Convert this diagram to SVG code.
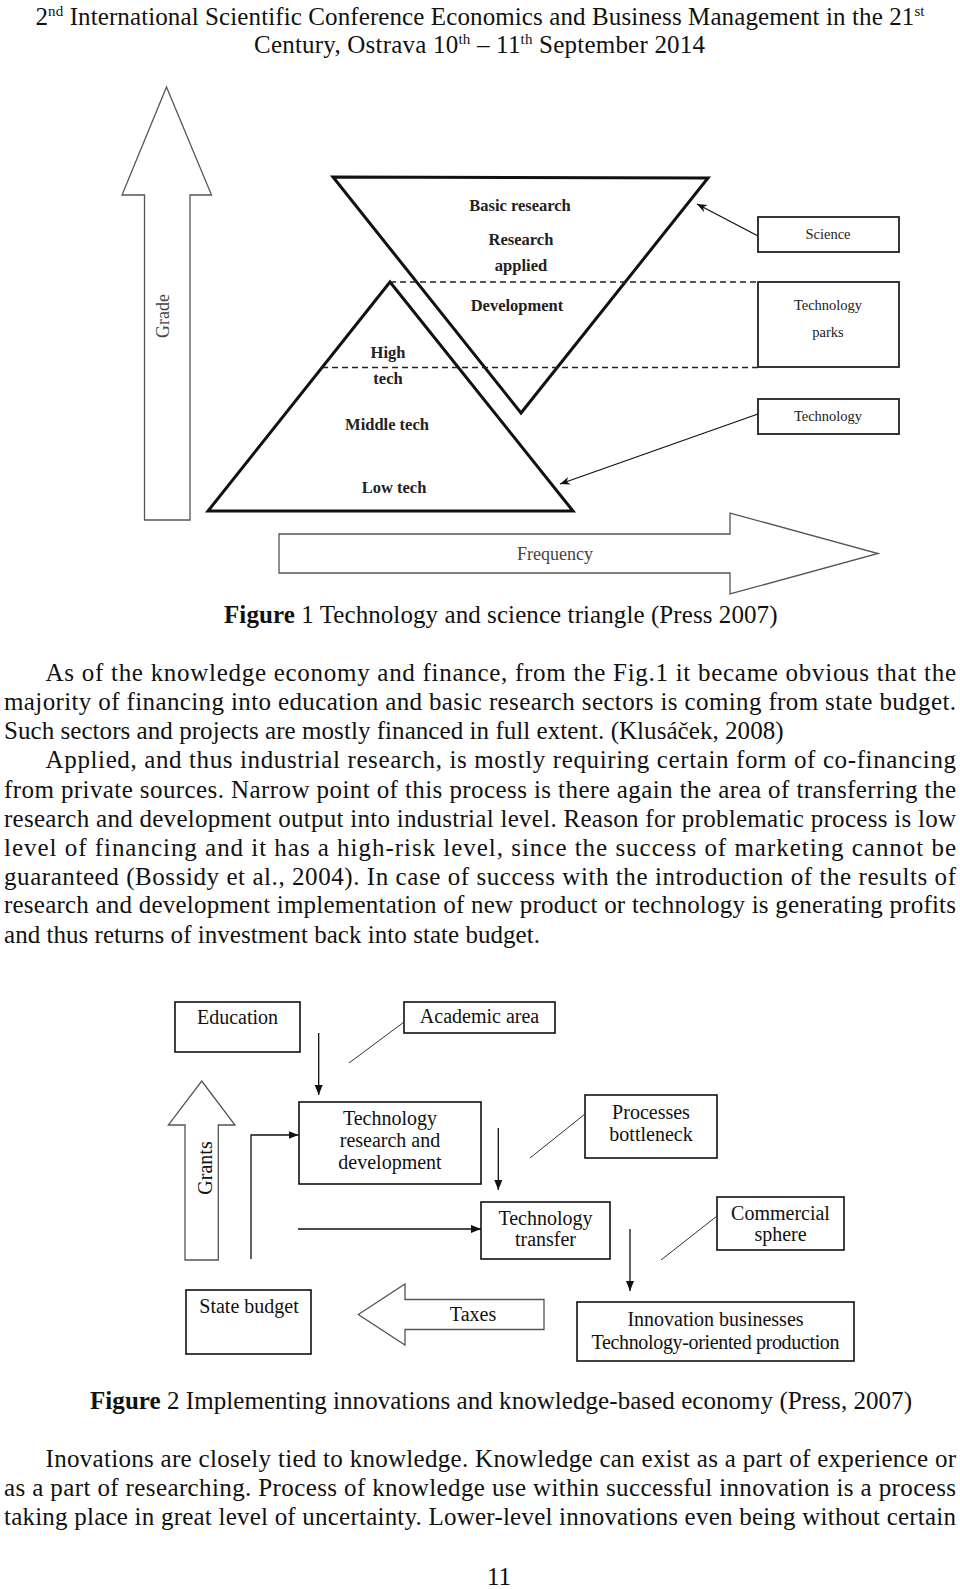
<svg xmlns="http://www.w3.org/2000/svg" width="960" height="1589" viewBox="0 0 960 1589">
<style>
text{font-family:"Liberation Serif","Times New Roman",serif;fill:#111}
.body{font-size:25px}
.hdr{font-size:25px}
.tri{fill:none;stroke:#111;stroke-width:3}
.dash{fill:none;stroke:#222;stroke-width:1.4;stroke-dasharray:6 4}
.b1{fill:none;stroke:#222;stroke-width:1.8}
.f1b{font-size:16.5px;font-weight:bold;text-anchor:middle;fill:#222}
.f1r{font-size:14.5px;text-anchor:middle;fill:#222}
.hollow{fill:none;stroke:#555;stroke-width:1.3}
.gl{font-size:18px;fill:#444;text-anchor:middle}
.b2{fill:none;stroke:#111;stroke-width:1.6}
.f2{font-size:20px;text-anchor:middle;fill:#111}
.conn{fill:none;stroke:#111;stroke-width:1.3}
.thin{fill:none;stroke:#333;stroke-width:1}
</style>
<defs>
<marker id="ah" markerUnits="userSpaceOnUse" markerWidth="11" markerHeight="9" refX="10" refY="4" orient="auto">
<path d="M0,0 L10,4 L0,8 z" fill="#111"/>
</marker>
<marker id="ah1" markerUnits="userSpaceOnUse" markerWidth="11" markerHeight="9" refX="10" refY="4" orient="auto">
<path d="M0,0 L10,4 L0,8 L3,4 z" fill="#111"/>
</marker>
</defs>
<rect width="960" height="1589" fill="#fff"/>

<g id="header">
<text class="hdr" x="35.5" y="25" textLength="889" lengthAdjust="spacing">2<tspan dy="-9" font-size="15">nd</tspan><tspan dy="9"> International Scientific Conference Economics and Business Management in the 21</tspan><tspan dy="-9" font-size="15">st</tspan></text>
<text class="hdr" x="254" y="53" textLength="451" lengthAdjust="spacing">Century, Ostrava 10<tspan dy="-9" font-size="15">th</tspan><tspan dy="9"> – 11</tspan><tspan dy="-9" font-size="15">th</tspan><tspan dy="9"> September 2014</tspan></text>
</g>

<!-- Figure 1 -->
<g id="grade-arrow">
<polygon class="hollow" points="166.5,87 211.5,195 190,195 190,520 144.5,520 144.5,195 122,195"/>
<text class="gl" transform="translate(169,316) rotate(-90)">Grade</text>
</g>
<g id="frequency-arrow">
<polygon class="hollow" points="279,534 730,534 730,513 878,553.5 730,594 730,573 279,573"/>
<text class="gl" x="555" y="560" font-size="20">Frequency</text>
</g>
<g id="inverted-triangle">
<polygon class="tri" points="333,177 708,178 521,413"/>
<text class="f1b" x="520" y="211">Basic research</text>
<text class="f1b" x="521" y="245">Research</text>
<text class="f1b" x="521" y="271">applied</text>
<text class="f1b" x="517" y="311">Development</text>
</g>
<g id="pyramid">
<polygon class="tri" points="390,282 208,511 573,511"/>
<text class="f1b" x="388" y="358">High</text>
<text class="f1b" x="388" y="384">tech</text>
<text class="f1b" x="387" y="430">Middle tech</text>
<text class="f1b" x="394" y="493">Low tech</text>
</g>
<g id="levels">
<line class="dash" x1="390" y1="282" x2="758" y2="282"/>
<line class="dash" x1="322" y1="367.5" x2="758" y2="367.5"/>
</g>
<g id="science">
<rect class="b1" x="758" y="217" width="141" height="35"/>
<text class="f1r" x="828" y="239">Science</text>
</g>
<g id="technology-parks">
<rect class="b1" x="758" y="282" width="141" height="85"/>
<text class="f1r" x="828" y="310">Technology</text>
<text class="f1r" x="828" y="337">parks</text>
</g>
<g id="technology">
<rect class="b1" x="758" y="399" width="141" height="35"/>
<text class="f1r" x="828" y="421">Technology</text>
</g>
<g id="fig1-connectors">
<line class="conn" x1="758" y1="236" x2="697" y2="204" marker-end="url(#ah1)"/>
<line class="conn" x1="758" y1="414" x2="560" y2="484" marker-end="url(#ah1)"/>
</g>

<text class="body" x="224" y="623" textLength="553.5" lengthAdjust="spacing"><tspan font-weight="bold">Figure</tspan> 1 Technology and science triangle (Press 2007)</text>

<g id="paragraph1" class="body">
<text class="body" x="45.6" y="681" textLength="910.4" lengthAdjust="spacing">As of the knowledge economy and finance, from the Fig.1 it became obvious that the</text>
<text class="body" x="4" y="710" textLength="952" lengthAdjust="spacing">majority of financing into education and basic research sectors is coming from state budget.</text>
<text class="body" x="4" y="739" textLength="779.6" lengthAdjust="spacing">Such sectors and projects are mostly financed in full extent. (Klusáček, 2008)</text>
<text class="body" x="45.6" y="768" textLength="910.4" lengthAdjust="spacing">Applied, and thus industrial research, is mostly requiring certain form of co-financing</text>
<text class="body" x="4" y="798" textLength="952" lengthAdjust="spacing">from private sources. Narrow point of this process is there again the area of transferring the</text>
<text class="body" x="4" y="827" textLength="952" lengthAdjust="spacing">research and development output into industrial level. Reason for problematic process is low</text>
<text class="body" x="4" y="856" textLength="952" lengthAdjust="spacing">level of financing and it has a high-risk level, since the success of marketing cannot be</text>
<text class="body" x="4" y="885" textLength="952" lengthAdjust="spacing">guaranteed (Bossidy et al., 2004). In case of success with the introduction of the results of</text>
<text class="body" x="4" y="913" textLength="952" lengthAdjust="spacing">research and development implementation of new product or technology is generating profits</text>
<text class="body" x="4" y="943" textLength="536" lengthAdjust="spacing">and thus returns of investment back into state budget.</text>
</g>

<!-- Figure 2 -->
<g id="education">
<rect class="b2" x="175" y="1002" width="125" height="50"/>
<text class="f2" x="237.5" y="1024">Education</text>
</g>
<g id="academic-area">
<rect class="b2" x="404" y="1002" width="151" height="31"/>
<text class="f2" x="479.5" y="1023">Academic area</text>
</g>
<g id="tech-rd">
<rect class="b2" x="299" y="1102" width="182" height="82"/>
<text class="f2" x="390" y="1125">Technology</text>
<text class="f2" x="390" y="1147">research and</text>
<text class="f2" x="390" y="1168.5">development</text>
</g>
<g id="processes-bottleneck">
<rect class="b2" x="585" y="1095" width="132" height="63"/>
<text class="f2" x="651" y="1119">Processes</text>
<text class="f2" x="651" y="1141">bottleneck</text>
</g>
<g id="tech-transfer">
<rect class="b2" x="481" y="1202" width="129" height="57"/>
<text class="f2" x="545.5" y="1225">Technology</text>
<text class="f2" x="545.5" y="1246">transfer</text>
</g>
<g id="commercial-sphere">
<rect class="b2" x="717" y="1197" width="127" height="53"/>
<text class="f2" x="780.5" y="1220">Commercial</text>
<text class="f2" x="780.5" y="1241">sphere</text>
</g>
<g id="innovation">
<rect class="b2" x="577" y="1302" width="277" height="59"/>
<text class="f2" x="715.5" y="1326" font-size="19.5">Innovation businesses</text>
<text class="f2" x="715.5" y="1348.5" font-size="19.5" textLength="248" lengthAdjust="spacing">Technology-oriented production</text>
</g>
<g id="state-budget">
<rect class="b2" x="186" y="1290" width="125" height="64"/>
<text class="f2" x="249" y="1313">State budget</text>
</g>
<g id="grants-arrow">
<polygon class="hollow" points="201.7,1081 235,1125 218.3,1125 218.3,1260 185,1260 185,1125 168.3,1125"/>
<text class="f2" transform="translate(212,1168) rotate(-90)" fill="#222">Grants</text>
</g>
<g id="taxes-arrow">
<polygon class="hollow" points="358.3,1314.5 405,1284 405,1299.5 544,1299.5 544,1329.5 405,1329.5 405,1345"/>
<text class="f2" x="473" y="1321" font-size="19.5">Taxes</text>
</g>
<g id="fig2-connectors">
<line class="thin" x1="404" y1="1022" x2="349" y2="1063"/>
<line class="thin" x1="585" y1="1114" x2="530" y2="1158"/>
<line class="thin" x1="717" y1="1216" x2="661" y2="1260"/>
<line class="conn" x1="318.7" y1="1033" x2="318.7" y2="1095" marker-end="url(#ah)"/>
<line class="conn" x1="498.3" y1="1128" x2="498.3" y2="1190" marker-end="url(#ah)"/>
<line class="conn" x1="298" y1="1229" x2="481" y2="1229" marker-end="url(#ah)"/>
<line class="conn" x1="630" y1="1229" x2="630" y2="1291" marker-end="url(#ah)"/>
<polyline class="conn" points="251,1259 251,1135 298.5,1135" marker-end="url(#ah)"/>
</g>

<text class="body" x="90" y="1409" textLength="822" lengthAdjust="spacing"><tspan font-weight="bold">Figure</tspan> 2 Implementing innovations and knowledge-based economy (Press, 2007)</text>

<g id="paragraph2">
<text class="body" x="45.6" y="1467" textLength="910.4" lengthAdjust="spacing">Inovations are closely tied to knowledge. Knowledge can exist as a part of experience or</text>
<text class="body" x="4" y="1496" textLength="952" lengthAdjust="spacing">as a part of researching. Process of knowledge use within successful innovation is a process</text>
<text class="body" x="4" y="1525" textLength="952" lengthAdjust="spacing">taking place in great level of uncertainty. Lower-level innovations even being without certain</text>
</g>
<text class="body" x="499" y="1585" text-anchor="middle">11</text>
</svg>
